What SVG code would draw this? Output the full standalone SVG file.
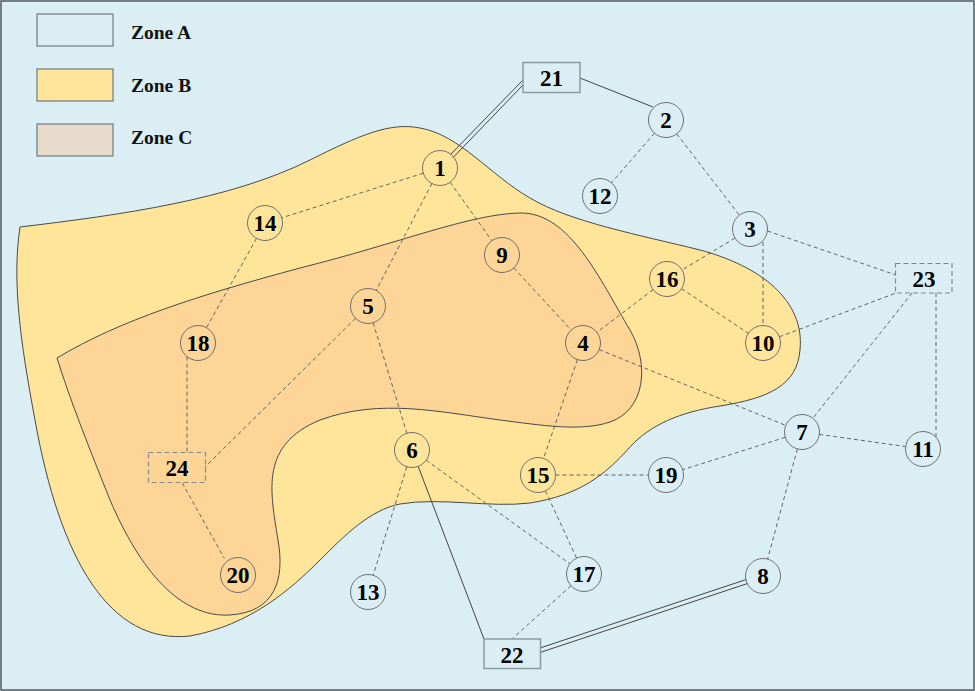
<svg xmlns="http://www.w3.org/2000/svg" width="975" height="691" viewBox="0 0 975 691">
<style>
.zone{stroke:#4a4a4a;stroke-width:1}
.leg{stroke:#6e7a80;stroke-width:1.2}
.lt{font-family:"Liberation Serif","Times New Roman",serif;font-weight:bold;font-size:19.5px;fill:#111}
.nc{fill:none;stroke:#6f6f6f;stroke-width:1}
.nr{fill:none;stroke:#8b9ba2;stroke-width:1.5}
.nd{fill:none;stroke:#888;stroke-width:1.2;stroke-dasharray:5 3}
.nl{font-family:"Liberation Serif","Times New Roman",serif;font-weight:bold;font-size:23px;fill:#000;text-anchor:middle}
.e{fill:none;stroke:#555;stroke-width:0.9;stroke-dasharray:4 3}
.s{fill:none;stroke:#444;stroke-width:1}
.d{fill:none;stroke:#444;stroke-width:1}
</style>
<rect x="0" y="0" width="975" height="691" fill="#dbeef4"/>
<g id="zones">
<path class="zone" fill="#fee59a" d="M20,227 C120,215 230,200 310,160 C360,135 390,122 420,128 C460,135 490,175 530,198 C570,222 640,235 700,250 C760,266 805,300 800,350 C797,385 770,398 720,406 C680,412 650,425 630,447 C605,475 580,495 530,503 C490,508 440,497 400,504 C370,510 345,535 320,560 C290,590 250,625 190,636 C110,645 60,560 35,420 C20,340 12,280 20,227 Z"/>
<path class="zone" fill="#fcd597" d="M57,358 C120,320 200,295 300,268 C400,243 470,214 520,213 C570,212 600,280 630,330 C650,365 645,410 610,422 C580,432 540,425 500,420 C440,412 380,398 320,420 C260,445 270,490 278,540 C285,580 275,612 230,615 C180,618 140,570 110,500 C90,450 70,400 57,358 Z"/>
</g>
<g id="legend">
<rect class="leg" x="37" y="14" width="76" height="32" fill="#dbeef4"/>
<text class="lt" x="131" y="38.5">Zone A</text>
<rect class="leg" x="37" y="69" width="76" height="32" fill="#fee599"/>
<text class="lt" x="131" y="91.5">Zone B</text>
<rect class="leg" x="37" y="124" width="76" height="32" fill="#e7dccb"/>
<text class="lt" x="131" y="144">Zone C</text>
</g>
<g id="connectors">
<line class="d" x1="523" y1="80" x2="450.5" y2="154.5"/>
<line class="d" x1="523" y1="85" x2="453.3" y2="157.3"/>
<line class="d" x1="540" y1="648" x2="746.3" y2="579.5"/>
<line class="d" x1="540" y1="652.5" x2="747.5" y2="583.5"/>
<line class="s" x1="580" y1="78" x2="653" y2="107"/>
<line class="s" x1="418.2" y1="466.4" x2="484" y2="639"/>
<line class="e" x1="654.5" y1="133.2" x2="611.5" y2="182.8"/>
<line class="e" x1="676.7" y1="133.9" x2="739.3" y2="215.1"/>
<line class="e" x1="735" y1="238" x2="682" y2="270"/>
<line class="e" x1="763" y1="242" x2="763" y2="325.5"/>
<line class="e" x1="767.5" y1="231" x2="896" y2="275"/>
<line class="e" x1="423.3" y1="173.2" x2="281.7" y2="217.8"/>
<line class="e" x1="431.9" y1="183.5" x2="376.1" y2="290.5"/>
<line class="e" x1="450.2" y1="182.3" x2="491.8" y2="240.7"/>
<line class="e" x1="256.5" y1="238.3" x2="206.5" y2="327.7"/>
<line class="e" x1="513.8" y1="267.9" x2="571.2" y2="330.1"/>
<line class="e" x1="653.1" y1="289.6" x2="596.9" y2="332.4"/>
<line class="e" x1="681.6" y1="288.7" x2="748.4" y2="333.3"/>
<line class="e" x1="779.4" y1="336.8" x2="896" y2="293"/>
<line class="e" x1="912" y1="293" x2="812.8" y2="418.3"/>
<line class="e" x1="936" y1="293" x2="936" y2="437.3"/>
<line class="e" x1="355.5" y1="318.3" x2="205" y2="467"/>
<line class="e" x1="373.1" y1="322.7" x2="406.9" y2="433.3"/>
<line class="e" x1="187" y1="356.6" x2="187" y2="453"/>
<line class="e" x1="182.3" y1="483" x2="224.3" y2="558.3"/>
<line class="e" x1="599.2" y1="349.6" x2="785.8" y2="425.4"/>
<line class="e" x1="577.4" y1="359.6" x2="543.6" y2="458.4"/>
<line class="e" x1="819.3" y1="434.4" x2="905.7" y2="446.6"/>
<line class="e" x1="785.3" y1="437.3" x2="682.7" y2="469.7"/>
<line class="e" x1="797.4" y1="448.9" x2="767.6" y2="559.1"/>
<line class="e" x1="555.5" y1="475" x2="648.5" y2="475"/>
<line class="e" x1="545.4" y1="490.9" x2="576.6" y2="558.1"/>
<line class="e" x1="406.8" y1="466.7" x2="373.2" y2="575.3"/>
<line class="e" x1="426.2" y1="460.2" x2="569.8" y2="563.8"/>
<line class="e" x1="571" y1="585.7" x2="512" y2="639"/>
</g>
<g id="n1"><circle class="nc" cx="440" cy="168" r="17.5"/><text class="nl" x="440" y="176">1</text></g>
<g id="n2"><circle class="nc" cx="666" cy="120" r="17.5"/><text class="nl" x="666" y="128">2</text></g>
<g id="n3"><circle class="nc" cx="750" cy="229" r="17.5"/><text class="nl" x="750" y="237">3</text></g>
<g id="n4"><circle class="nc" cx="583" cy="343" r="17.5"/><text class="nl" x="583" y="351">4</text></g>
<g id="n5"><circle class="nc" cx="368" cy="306" r="17.5"/><text class="nl" x="368" y="314">5</text></g>
<g id="n6"><circle class="nc" cx="412" cy="450" r="17.5"/><text class="nl" x="412" y="458">6</text></g>
<g id="n7"><circle class="nc" cx="802" cy="432" r="17.5"/><text class="nl" x="802" y="440">7</text></g>
<g id="n8"><circle class="nc" cx="763" cy="576" r="17.5"/><text class="nl" x="763" y="584">8</text></g>
<g id="n9"><circle class="nc" cx="502" cy="255" r="17.5"/><text class="nl" x="502" y="263">9</text></g>
<g id="n10"><circle class="nc" cx="763" cy="343" r="17.5"/><text class="nl" x="763" y="351">10</text></g>
<g id="n11"><circle class="nc" cx="923" cy="449" r="17.5"/><text class="nl" x="923" y="457">11</text></g>
<g id="n12"><circle class="nc" cx="600" cy="196" r="17.5"/><text class="nl" x="600" y="204">12</text></g>
<g id="n13"><circle class="nc" cx="368" cy="592" r="17.5"/><text class="nl" x="368" y="600">13</text></g>
<g id="n14"><circle class="nc" cx="265" cy="223" r="17.5"/><text class="nl" x="265" y="231">14</text></g>
<g id="n15"><circle class="nc" cx="538" cy="475" r="17.5"/><text class="nl" x="538" y="483">15</text></g>
<g id="n16"><circle class="nc" cx="667" cy="279" r="17.5"/><text class="nl" x="667" y="287">16</text></g>
<g id="n17"><circle class="nc" cx="584" cy="574" r="17.5"/><text class="nl" x="584" y="582">17</text></g>
<g id="n18"><circle class="nc" cx="198" cy="343" r="17.5"/><text class="nl" x="198" y="351">18</text></g>
<g id="n19"><circle class="nc" cx="666" cy="475" r="17.5"/><text class="nl" x="666" y="483">19</text></g>
<g id="n20"><circle class="nc" cx="238" cy="575" r="17.5"/><text class="nl" x="238" y="583">20</text></g>
<g id="n21"><rect class="nr" x="523" y="62.5" width="57" height="30"/><text class="nl" x="551.5" y="85.5">21</text></g>
<g id="n22"><rect class="nr" x="484" y="639" width="56.5" height="29.5"/><text class="nl" x="512" y="662.5">22</text></g>
<g id="n23"><rect class="nd" x="895.5" y="263.5" width="56.5" height="29.5"/><text class="nl" x="924" y="286.5">23</text></g>
<g id="n24"><rect class="nd" x="148.5" y="452.5" width="57" height="30"/><text class="nl" x="177" y="476">24</text></g>
<rect x="1" y="1" width="973" height="689" fill="none" stroke="#505a5e" stroke-width="1.5"/>
</svg>
